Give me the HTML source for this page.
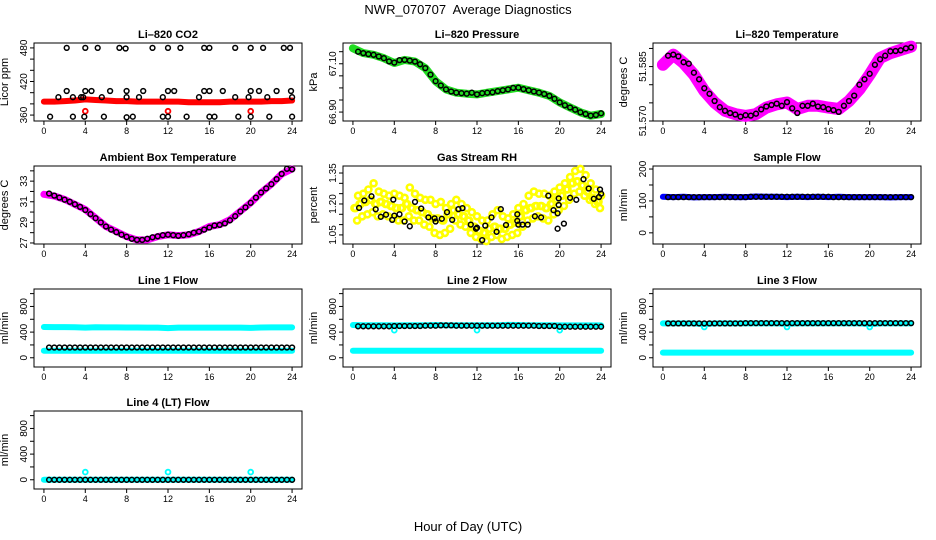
<!DOCTYPE html>
<html><head><meta charset="utf-8"><style>
html,body{margin:0;padding:0;background:#fff}
svg{display:block;font-family:"Liberation Sans",sans-serif}
</style></head><body>
<svg id="chart" width="936" height="540" viewBox="0 0 936 540" xmlns="http://www.w3.org/2000/svg">
<text x="468" y="14" text-anchor="middle" font-size="13">NWR_070707&#160; Average Diagnostics</text>
<text x="468" y="531" text-anchor="middle" font-size="13">Hour of Day (UTC)</text>
</svg>
<script>
// ---- data ----
const xTicks = [0,4,8,12,16,20,24];
const hourly = [0,1,2,3,4,5,6,7,8,9,10,11,12,13,14,15,16,17,18,19,20,21,22,23,24];
const halfHours = [0.5,1,1.5,2,2.5,3,3.5,4,4.5,5,5.5,6,6.5,7,7.5,8,8.5,9,9.5,10,10.5,11,11.5,12,12.5,13,13.5,14,14.5,15,15.5,16,16.5,17,17.5,18,18.5,19,19.5,20,20.5,21,21.5,22,22.5,23,23.5,24];

// CO2
const co2Red = [384,384,385,386,388,387,386,385,385,384,384,384,384,384,383,383,383,383,384,384,384,384,385,385,386];
const co2RedOutHours = [4,12,20];
const co2RedOutValues = [367,367,367];
const co2BlackHours = [2.2,4,5.2,7.3,7.9,10.5,12,13.2,15.5,16,18.5,20,21.2,23.2,23.8,0.6,2.8,3.9,5.8,8,8.6,11.5,12,13.8,16,16.5,18.8,20,21.8,24,1.4,2.2,2.8,3.6,3.8,4,4.6,5.6,6.4,8,8,9.2,9.6,11.5,12,12.6,15,15.5,16,17.3,18.5,19.8,20,20.8,21.6,22.5,23.9,24];
const co2BlackValues = [480,480,480,480,479,480,480,480,480,480,480,480,480,480,480,357,357,357,357,356,357,357,357,357,357,357,357,357,357,357,392,403,392,392,392,403,403,392,403,403,392,392,403,392,403,403,392,403,403,403,392,392,403,403,392,403,403,392];

// Pressure
const pressGreen = [67.164,67.144,67.137,67.123,67.103,67.116,67.109,67.082,67.028,66.994,66.980,66.976,66.973,66.980,66.987,66.994,67.001,66.990,66.980,66.967,66.940,66.919,66.899,66.885,66.892];
const pressBlack = [67.150,67.144,67.140,67.137,67.130,67.123,67.110,67.105,67.115,67.116,67.113,67.109,67.098,67.082,67.055,67.028,67.010,66.994,66.985,66.980,66.978,66.976,66.980,66.973,66.978,66.980,66.982,66.987,66.990,66.994,67.000,67.001,66.995,66.990,66.985,66.980,66.975,66.967,66.955,66.940,66.928,66.919,66.910,66.899,66.892,66.885,66.888,66.895];

// Li-820 temperature
const tempMagenta = [51.5855,51.5883,51.5860,51.5828,51.5783,51.5751,51.5728,51.5719,51.5714,51.5719,51.5737,51.5746,51.5751,51.5733,51.5742,51.5742,51.5737,51.5733,51.5755,51.5787,51.5828,51.5874,51.5887,51.5896,51.5905];
const tempBlack = [51.5880,51.5883,51.5878,51.5862,51.5858,51.5833,51.5815,51.5790,51.5775,51.5755,51.5738,51.5728,51.5722,51.5718,51.5712,51.5716,51.5715,51.5720,51.5732,51.5740,51.5744,51.5748,51.5742,51.5752,51.5735,51.5722,51.5742,51.5742,51.5748,51.5740,51.5738,51.5733,51.5730,51.5725,51.5742,51.5755,51.5770,51.5800,51.5815,51.5830,51.5855,51.5870,51.5880,51.5892,51.5893,51.5895,51.5900,51.5903];

// Ambient
const ambMagenta = [31.72,31.56,31.23,30.74,30.25,29.43,28.6,28.11,27.62,27.30,27.30,27.62,27.79,27.72,27.79,28.11,28.6,28.77,29.26,30.08,30.9,31.89,32.7,33.69,34.18];
const ambBlack = [31.8,31.6,31.4,31.2,31.0,30.75,30.5,30.2,29.8,29.4,29.0,28.6,28.3,28.05,27.8,27.6,27.4,27.3,27.3,27.4,27.55,27.65,27.75,27.8,27.75,27.7,27.75,27.85,28.0,28.1,28.3,28.5,28.7,28.75,28.9,29.2,29.6,30.05,30.45,30.9,31.4,31.9,32.3,32.7,33.2,33.7,34.2,34.15];

// RH
const rhYellowHi = [1.24,1.25,1.27,1.30,1.26,1.25,1.24,1.25,1.24,1.23,1.28,1.25,1.23,1.22,1.22,1.20,1.21,1.18,1.20,1.22,1.20,1.18,1.16,1.14,1.12,1.12,1.15,1.17,1.14,1.13,1.15,1.18,1.20,1.24,1.26,1.25,1.25,1.24,1.26,1.28,1.30,1.33,1.36,1.37,1.34,1.30,1.27,1.24];
const rhYellowMid = [1.18,1.20,1.21,1.22,1.20,1.21,1.20,1.19,1.18,1.18,1.20,1.18,1.17,1.16,1.15,1.13,1.13,1.12,1.15,1.17,1.15,1.14,1.12,1.09,1.07,1.06,1.08,1.09,1.08,1.08,1.10,1.11,1.14,1.17,1.18,1.19,1.19,1.18,1.20,1.22,1.24,1.27,1.30,1.31,1.29,1.26,1.23,1.21];
const rhYellowLo = [1.12,1.14,1.15,1.16,1.14,1.15,1.14,1.13,1.12,1.12,1.14,1.12,1.12,1.10,1.09,1.06,1.05,1.06,1.08,1.12,1.10,1.09,1.06,1.04,1.03,1.02,1.04,1.05,1.03,1.04,1.05,1.06,1.09,1.12,1.13,1.14,1.13,1.12,1.15,1.17,1.19,1.22,1.25,1.26,1.24,1.22,1.20,1.18];
const rhBlackHours = [0.6,1.1,1.8,2.2,2.7,3.2,3.8,3.9,4,4.5,5,5.5,6,6.6,7.3,7.9,8,8.6,9.1,9.6,10.2,10.6,11.4,11.9,12,12.5,12.8,13.4,13.9,14.3,14.8,15.9,16,15.9,16.4,16.9,17.6,18.2,18.9,19.4,19.8,19.9,19.9,19.8,20.4,21,21.6,22.3,22.8,23.3,23.8,23.9,24];
const rhBlackValues = [1.181,1.217,1.237,1.174,1.138,1.148,1.123,1.221,1.143,1.15,1.115,1.092,1.21,1.178,1.135,1.13,1.115,1.128,1.16,1.123,1.175,1.18,1.10,1.08,1.085,1.025,1.095,1.135,1.065,1.175,1.098,1.15,1.10,1.118,1.10,1.10,1.14,1.135,1.24,1.17,1.155,1.195,1.227,1.08,1.105,1.23,1.22,1.32,1.275,1.225,1.234,1.27,1.25];

// Sample flow
const sampleBlue = [113,112,113,111,112,112,113,112,112,114,113,113,112,113,112,113,112,113,112,112,112,112,111,112,112];
const sampleBlack = [112,112,112,112,112,112,112,112,112,112,112,112,112,112,112,112,113,113,113,113,113,113,113,113,113,113,113,113,113,113,113,113,112,112,112,112,112,112,112,112,112,112,112,112,112,112,112,112];

// Line 1
const line1CyanHi = [480,478,478,476,470,476,474,474,472,472,470,470,462,470,470,470,470,470,470,470,466,472,474,474,474];
const line1CyanLo = [110,110,110,110,110,110,110,110,110,110,110,110,110,110,110,110,110,110,110,110,110,110,110,110,110];
const line1Black = [160,160,160,160,160,160,160,160,160,160,160,160,160,160,160,160,160,160,160,160,160,160,160,160,160,160,160,160,160,160,160,160,160,160,160,160,160,160,160,160,160,160,160,160,160,160,160,160];

// Line 2
const line2CyanHi = [510,508,506,506,505,506,506,508,510,508,508,508,506,508,508,512,510,508,508,506,505,505,505,504,504];
const line2CyanLo = [110,110,110,110,110,110,110,110,110,110,110,110,110,110,110,110,110,110,110,110,110,110,110,110,110];
const line2OutHours = [4,12,20];
const line2OutValues = [430,430,430];
const line2Black = [490,490,490,490,490,490,490,495,495,495,495,495,495,500,500,500,505,505,505,500,500,500,500,500,500,500,500,500,500,500,500,500,500,500,500,495,495,495,495,485,485,485,485,485,485,485,485,485];

// Line 3
const line3CyanHi = [535,535,535,535,525,535,535,535,535,535,535,535,530,535,535,535,535,535,535,535,525,535,535,535,535];
const line3CyanLo = [80,80,80,80,80,80,80,80,80,80,80,80,80,80,80,80,80,80,80,80,80,80,80,80,80];
const line3OutHours = [4,12,20];
const line3OutValues = [480,480,480];
const line3Black = [535,535,535,535,535,535,535,535,535,535,535,535,535,535,535,540,540,540,540,540,540,540,540,540,540,540,540,540,540,540,540,540,540,540,540,540,540,540,540,540,540,540,540,540,540,540,540,540];

// Line 4
const line4Cyan = [0,0,0,0,0,0,0,0,0,0,0,0,0,0,0,0,0,0,0,0,0,0,0,0,0];
const line4OutHours = [4,12,20];
const line4OutValues = [120,120,120];
const line4Black = [0,0,0,0,0,0,0,0,0,0,0,0,0,0,0,0,0,0,0,0,0,0,0,0,0,0,0,0,0,0,0,0,0,0,0,0,0,0,0,0,0,0,0,0,0,0,0,0];

// ---- rendering ----
const NS = "http://www.w3.org/2000/svg";
const svg = document.getElementById('chart');
const XMIN = -0.96, XMAX = 24.96, W = 268, H = 78;
const cols = [34, 343, 653];
const rows = [43, 166, 289, 411];

function mk(tag, attrs, parent) {
  const e = document.createElementNS(NS, tag);
  for (const k in attrs) e.setAttribute(k, attrs[k]);
  (parent || svg).appendChild(e);
  return e;
}

function makePanel(name, col, row, title, ylabel, ymin, ymax, yticks, ylabels) {
  const p = {x: cols[col], y: rows[row], ymin: ymin, ymax: ymax};
  p.g = mk('g', {});
  
  
  p.sx = h => p.x + (h - XMIN) / (XMAX - XMIN) * W;
  p.sy = v => p.y + H - (v - p.ymin) / (p.ymax - p.ymin) * H;
  const t = mk('text', {x: p.x + W / 2, y: p.y - 5, 'text-anchor': 'middle', 'font-size': 11, 'font-weight': 'bold'}, p.g);
  t.textContent = title;
  
  
  const yl = mk('text', {x: 0, y: 0, 'text-anchor': 'middle', 'font-size': 11, transform: `translate(${p.x - 26},${p.y + H / 2}) rotate(-90)`}, p.g);
  yl.textContent = ylabel;
  
  
  const box = mk('rect', {x: p.x, y: p.y, width: W, height: H, fill: 'none', stroke: '#000', 'stroke-width': 1}, p.g);
  
  
  const xa = mk('g', {}, p.g);
  
  
  mk('line', {x1: p.sx(0), x2: p.sx(24), y1: p.y + H, y2: p.y + H, stroke: '#000'}, xa);
  xTicks.forEach(v => {
    mk('line', {x1: p.sx(v), x2: p.sx(v), y1: p.y + H, y2: p.y + H + 4, stroke: '#000'}, xa);
    const tl = mk('text', {x: p.sx(v), y: p.y + H + 13, 'text-anchor': 'middle', 'font-size': 9}, xa);
    tl.textContent = v;
    
    
  });
  const ya = mk('g', {}, p.g);
  
  
  mk('line', {x1: p.x, x2: p.x, y1: p.sy(yticks[0]), y2: p.sy(yticks[yticks.length - 1]), stroke: '#000'}, ya);
  yticks.forEach(v => {
    mk('line', {x1: p.x - 4, x2: p.x, y1: p.sy(v), y2: p.sy(v), stroke: '#000'}, ya);
  });
  ylabels.forEach(v => {
    const tl = mk('text', {x: 0, y: 0, 'text-anchor': 'middle', 'font-size': 10, transform: `translate(${p.x - 7},${p.sy(v[0])}) rotate(-90)`}, ya);
    tl.textContent = v[1];
    
    
  });
  return p;
}

function band(p, xs, ys, color, width, name) {
  const pts = xs.map((h, i) => p.sx(h).toFixed(1) + ',' + p.sy(ys[i]).toFixed(1)).join(' ');
  const pl = mk('polyline', {points: pts, fill: 'none', stroke: color, 'stroke-width': width, 'stroke-linejoin': 'round', 'stroke-linecap': 'round'}, p.g);
  
  
}

function dots(p, xs, ys, color, name, sw, r) {
  const g = mk('g', {}, p.g);
  
  
  xs.forEach((h, i) => {
    const c = mk('circle', {cx: p.sx(h).toFixed(1), cy: p.sy(ys[i]).toFixed(1), r: r || 2.4, fill: 'none', stroke: color, 'stroke-width': sw || 1.5}, g);
    
    
  });
}

const lineTicks = [0,200,400,600,800,1000];
const lineLabels = [[0,'0'],[400,'400'],[800,'800']];

let p = makePanel('co2', 0, 0, 'Li\u2013820 CO2', 'Licor ppm', 349.4, 488.8, [360,380,400,420,440,460,480], [[360,'360'],[420,'420'],[480,'480']]);
band(p, hourly, co2Red, '#ff0000', 6, 'co2-red-band');
dots(p, co2RedOutHours, co2RedOutValues, '#ff0000', 'co2-red-outliers', 1.8);
dots(p, co2BlackHours, co2BlackValues, '#000', 'co2-black-points');

p = makePanel('pressure', 1, 0, 'Li\u2013820 Pressure', 'kPa', 66.863, 67.186, [66.90,66.95,67.00,67.05,67.10,67.15], [[66.90,'66.90'],[67.10,'67.10']]);
band(p, hourly, pressGreen, '#22dd22', 8, 'pressure-green-band');
dots(p, halfHours, pressBlack, '#000', 'pressure-black-points');

p = makePanel('li820-temp', 2, 0, 'Li\u2013820 Temperature', 'degrees C', 51.5700, 51.5915, [51.570,51.575,51.580,51.585,51.590], [[51.570,'51.570'],[51.585,'51.585']]);
band(p, hourly, tempMagenta, '#ff00ff', 12, 'li820-temp-magenta-band');
dots(p, halfHours, tempBlack, '#000', 'li820-temp-black-points');

p = makePanel('ambient-temp', 0, 1, 'Ambient Box Temperature', 'degrees C', 26.9, 34.47, [27,28,29,30,31,32,33,34], [[27,'27'],[29,'29'],[31,'31'],[33,'33']]);
band(p, hourly, ambMagenta, '#ff00ff', 7, 'ambient-magenta-band');
dots(p, halfHours, ambBlack, '#000', 'ambient-black-points');

p = makePanel('rh', 1, 1, 'Gas Stream RH', 'percent', 1.006, 1.384, [1.05,1.10,1.15,1.20,1.25,1.30,1.35], [[1.05,'1.05'],[1.20,'1.20'],[1.35,'1.35']]);
dots(p, halfHours, rhYellowHi, '#ffff00', 'rh-yellow-high', 2.6, 3);
dots(p, halfHours.map(h => h - 0.25), rhYellowMid, '#ffff00', 'rh-yellow-mid', 2.6, 3);
dots(p, halfHours.map(h => h - 0.1), rhYellowLo, '#ffff00', 'rh-yellow-low', 2.6, 3);
dots(p, halfHours.map(h => h - 0.35), rhYellowMid, '#ffff00', 'rh-yellow-mid2', 2.6, 3);
dots(p, rhBlackHours, rhBlackValues, '#000', 'rh-black-points');

p = makePanel('sample-flow', 2, 1, 'Sample Flow', 'ml/min', -35, 209.5, [0,50,100,150,200], [[0,'0'],[100,'100'],[200,'200']]);
band(p, hourly, sampleBlue, '#0000ff', 6, 'sample-blue-band');
dots(p, halfHours, sampleBlack, '#000', 'sample-black-points');

p = makePanel('line1-flow', 0, 2, 'Line 1 Flow', 'ml/min', -144, 1072, lineTicks, lineLabels);
band(p, hourly, line1CyanHi, '#00ffff', 6, 'line1-cyan-high');
band(p, hourly, line1CyanLo, '#00ffff', 6, 'line1-cyan-low');
dots(p, halfHours, line1Black, '#000', 'line1-black-points');

p = makePanel('line2-flow', 1, 2, 'Line 2 Flow', 'ml/min', -144, 1072, lineTicks, lineLabels);
band(p, hourly, line2CyanHi, '#00ffff', 6, 'line2-cyan-high');
band(p, hourly, line2CyanLo, '#00ffff', 6, 'line2-cyan-low');
dots(p, line2OutHours, line2OutValues, '#00ffff', 'line2-cyan-outliers', 1.8);
dots(p, halfHours, line2Black, '#000', 'line2-black-points');

p = makePanel('line3-flow', 2, 2, 'Line 3 Flow', 'ml/min', -144, 1072, lineTicks, lineLabels);
band(p, hourly, line3CyanHi, '#00ffff', 6, 'line3-cyan-high');
band(p, hourly, line3CyanLo, '#00ffff', 6, 'line3-cyan-low');
dots(p, line3OutHours, line3OutValues, '#00ffff', 'line3-cyan-outliers', 1.8);
dots(p, halfHours, line3Black, '#000', 'line3-black-points');

p = makePanel('line4-flow', 0, 3, 'Line 4 (LT) Flow', 'ml/min', -144, 1072, lineTicks, lineLabels);
band(p, hourly, line4Cyan, '#00ffff', 6, 'line4-cyan-band');
dots(p, line4OutHours, line4OutValues, '#00ffff', 'line4-cyan-outliers', 1.8);
dots(p, halfHours, line4Black, '#000', 'line4-black-points');
</script>
</body></html>
